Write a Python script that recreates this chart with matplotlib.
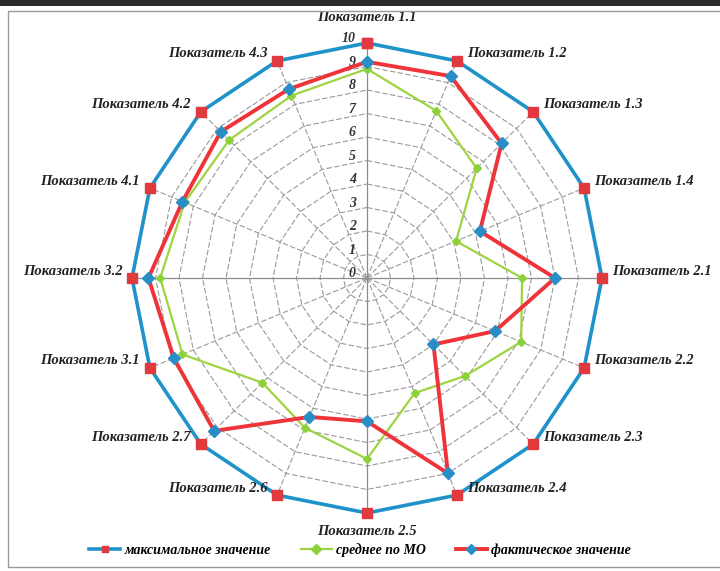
import numpy as np
import matplotlib
matplotlib.use("Agg")
import matplotlib.pyplot as plt
from matplotlib.patches import Rectangle

# categories, clockwise from the top
labels = ["Показатель 1.1", "Показатель 1.2", "Показатель 1.3", "Показатель 1.4",
          "Показатель 2.1", "Показатель 2.2", "Показатель 2.3", "Показатель 2.4",
          "Показатель 2.5", "Показатель 2.6", "Показатель 2.7", "Показатель 3.1",
          "Показатель 3.2", "Показатель 4.1", "Показатель 4.2", "Показатель 4.3"]

max_val = [10, 10, 10, 10, 10, 10, 10, 10, 10, 10, 10, 10, 10, 10, 10, 10]
avg_mo = [8.9, 7.7, 6.6, 4.1, 6.6, 7.1, 5.9, 5.3, 7.7, 6.9, 6.3, 8.5, 8.8, 8.4, 8.3, 8.4]
fact = [9.2, 9.3, 8.1, 5.2, 8.0, 5.9, 4.0, 9.0, 6.1, 6.4, 9.2, 8.9, 9.3, 8.5, 8.8, 8.7]

series_names = ["максимальное значение", "среднее по МО", "фактическое значение"]
r_ticks = [0, 1, 2, 3, 4, 5, 6, 7, 8, 9, 10]

font = dict(family="Liberation Serif", style="italic", weight="bold")

n = len(labels)
theta = np.arange(n) * 2 * np.pi / n
th_closed = np.append(theta, theta[0])

def closed(v):
    return np.append(v, v[0])

fig = plt.figure(figsize=(7.2, 5.71), dpi=100)
fig.patch.set_facecolor("white")

# scan-ish frame
fig.add_artist(Rectangle((0, 1 - 6 / 571), 1, 6 / 571, transform=fig.transFigure,
                         facecolor="#2b2b2b", edgecolor="none"))
fig.add_artist(Rectangle((8 / 720, 4 / 571), 1.2, 1 - 15 / 571, transform=fig.transFigure,
                         facecolor="none", edgecolor="#9a9a9a", lw=1))

cx, cy, R = 367, 278, 235
ax = fig.add_axes([(cx - R) / 720, 1 - (cy + R) / 571, 2 * R / 720, 2 * R / 571],
                  projection="polar")
ax.set_theta_zero_location("N")
ax.set_theta_direction(-1)
ax.set_ylim(0, 10)
ax.grid(False)
ax.spines["polar"].set_visible(False)
ax.set_xticks([])
ax.set_yticks([])
ax.patch.set_alpha(0)

# polygon rings
for r in r_ticks[1:]:
    ax.plot(th_closed, [r] * (n + 1), color="#9a9a9a", lw=0.8, ls=(0, (5, 2)), zorder=1)
# spokes
for i, t in enumerate(theta):
    if i in (0, 4, 8, 12):
        ax.plot([t, t], [0, 10], color="#8c8c8c", lw=0.9, zorder=1)
    else:
        ax.plot([t, t], [0, 10], color="#9a9a9a", lw=0.8, ls=(0, (5, 2)), zorder=1)

# value labels on the top spoke
for r in r_ticks:
    ax.annotate(str(r), (0, r), xytext=(-8, 3), textcoords="offset points",
                ha="right", va="center", fontsize=10, color="#333333", **font)

ax.plot(th_closed, closed(max_val), color="#1f93c9", lw=2.6, marker="s", ms=7,
        mfc="#e0393e", mec="#e0393e", label=series_names[0], zorder=3, clip_on=False)
ax.plot(th_closed, closed(avg_mo), color="#9fd340", lw=1.6, marker="D", ms=4,
        mfc="#8bd13a", mec="#8bd13a", label=series_names[1], zorder=4, clip_on=False)
ax.plot(th_closed, closed(fact), color="#ee3439", lw=2.8, marker="D", ms=6,
        mfc="#2a8ec6", mec="#2a8ec6", label=series_names[2], zorder=5, clip_on=False)

# category labels
for i, (t, lab) in enumerate(zip(theta, labels)):
    s = np.sin(t)
    if i == 0:
        off, ha = (0, 18.5), "center"
    elif i == 8:
        off, ha = (0, -13), "center"
    elif s > 0:
        off, ha = (7, 5), "left"
    else:
        off, ha = (-7, 5), "right"
    ax.annotate(lab, (t, 10), xytext=off, textcoords="offset points",
                ha=ha, va="center", fontsize=10.5, color="#222222", **font)

leg = fig.legend(loc="center", bbox_to_anchor=(0.5, 1 - 550 / 571), ncol=3,
                 frameon=False, prop=dict(family="Liberation Serif", style="italic",
                                          size=10, weight="bold"),
                 handlelength=2.2, columnspacing=2.2, handletextpad=0.3)
for h in leg.legend_handles:
    h.set_markersize(5)

fig.savefig("out.png", dpi=100)
